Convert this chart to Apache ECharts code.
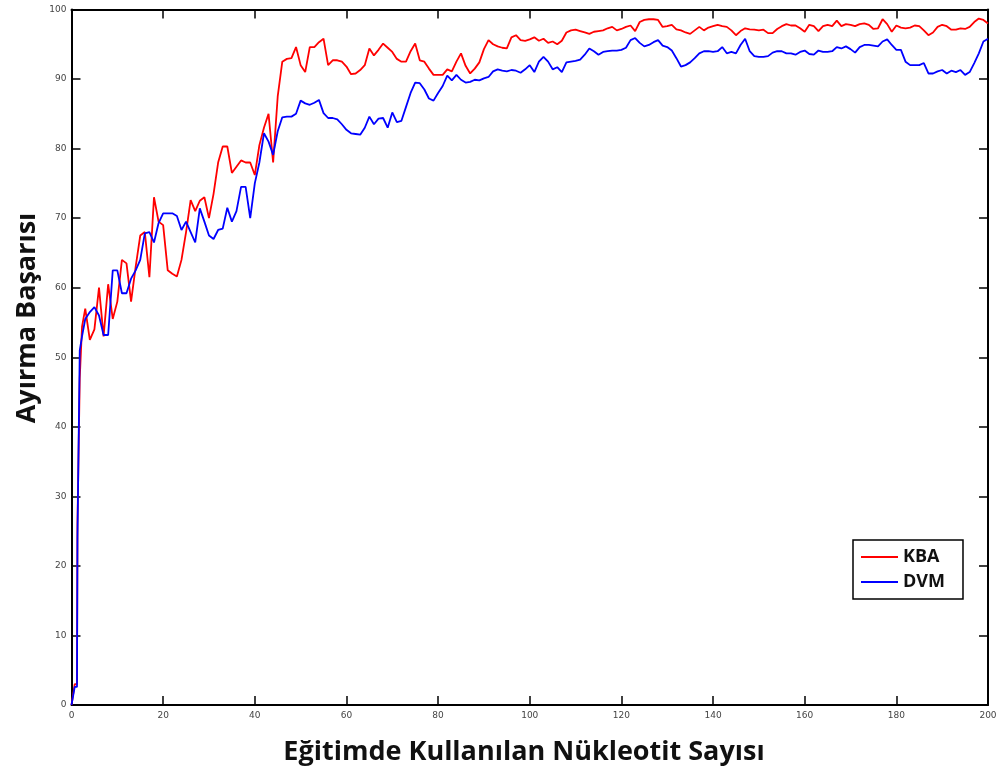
<!DOCTYPE html>
<html>
<head>
<meta charset="utf-8">
<script src="https://cdn.jsdelivr.net/npm/echarts@6/dist/echarts.min.js"></script>
<style>
html,body{margin:0;padding:0;background:#fff;}
#c{width:1000px;height:778px;}
</style>
</head>
<body>
<div id="c"></div>
<script>
// x positions (number of nucleotides used in training)
const nucleotides = [0, 0.7, 1.2, 1.3, 1.8, 2.3];
for (let n = 3; n <= 200; n++) nucleotides.push(n);

const kbaValues = [0, 3, 3, 26, 47, 54.4,
  57, 52.5, 54, 60, 53, 60.5, 55.5, 58, 64, 63.5, 58, 63, 67.5, 68, 61.5, 73, 69.5, 69, 62.5, 62, 61.6, 64, 68, 72.6, 71, 72.5, 73, 70, 73.5, 78, 80.3, 80.3, 76.5, 77.4, 78.3, 78, 78, 76.2, 80.5, 83, 85, 78, 87.5,
  92.5, 92.9, 93, 94.6, 92, 91, 94.6, 94.6, 95.3, 95.8, 92, 92.7, 92.7, 92.5, 91.8, 90.7, 90.8, 91.3, 92, 94.4, 93.4, 94.2, 95.1, 94.5, 93.9, 92.9, 92.5, 92.5, 94, 95.1, 92.7, 92.5, 91.5, 90.6, 90.6, 90.6, 91.4, 91.1, 92.5, 93.7, 91.9, 90.8, 91.5, 92.4, 94.3, 95.6, 95, 94.7, 94.5, 94.4, 96, 96.3,
  95.6, 95.5, 95.7, 96, 95.5, 95.8, 95.2, 95.4, 95, 95.5, 96.7, 97, 97.1, 96.9, 96.7, 96.5, 96.8, 96.9, 97, 97.3, 97.5, 97, 97.2, 97.5, 97.7, 96.9, 98.2, 98.5, 98.6, 98.6, 98.5, 97.5, 97.6, 97.8, 97.15, 97, 96.7, 96.5, 97, 97.5, 97, 97.4, 97.6, 97.8, 97.6, 97.5, 97, 96.3, 96.9, 97.3,
  97.15, 97.1, 97, 97.1, 96.6, 96.6, 97.2, 97.6, 97.9, 97.7, 97.7, 97.3, 96.8, 97.8, 97.6, 96.9, 97.6, 97.8, 97.6, 98.4, 97.6, 97.9, 97.8, 97.6, 97.9, 98, 97.8, 97.2, 97.3, 98.6, 97.9, 96.8, 97.7, 97.4, 97.3, 97.4, 97.7, 97.6, 97, 96.3, 96.7, 97.5, 97.8, 97.6, 97.1, 97.1, 97.3, 97.2, 97.5, 98.2, 98.7, 98.5, 98];

const dvmValues = [0, 2.6, 2.6, 24, 51, 53,
  55.5, 56.5, 57.2, 56, 53.2, 53.2, 62.5, 62.5, 59.2, 59.2, 61.3, 62.5, 64, 67.8, 68, 66.5, 69.3, 70.7, 70.7, 70.7, 70.3, 68.3, 69.5, 68, 66.5, 71.4, 69.5, 67.5, 67, 68.3, 68.5, 71.5, 69.5, 71, 74.5, 74.5, 70, 75, 78, 82.2, 81, 79.1, 82.5,
  84.5, 84.6, 84.6, 85, 86.9, 86.5, 86.3, 86.6, 87, 85.1, 84.4, 84.4, 84.2, 83.5, 82.7, 82.2, 82.1, 82, 83, 84.6, 83.5, 84.3, 84.4, 83, 85.2, 83.8, 84, 86, 88, 89.5, 89.4, 88.5, 87.2, 86.9, 88, 89, 90.5, 89.8, 90.6, 89.9, 89.5, 89.6, 89.9, 89.8, 90.1, 90.3, 91.1, 91.4, 91.2, 91.1, 91.3, 91.2,
  90.9, 91.4, 92, 91, 92.5, 93.2, 92.5, 91.4, 91.7, 91, 92.4, 92.5, 92.6, 92.8, 93.5, 94.4, 94, 93.5, 93.9, 94, 94.1, 94.1, 94.2, 94.5, 95.6, 95.9, 95.2, 94.7, 94.9, 95.3, 95.6, 94.8, 94.6, 94.1, 93, 91.8, 92, 92.4, 93, 93.7, 94, 94, 93.9, 94, 94.6, 93.7, 93.9, 93.7, 94.9, 95.8,
  94, 93.3, 93.2, 93.2, 93.3, 93.8, 94, 94, 93.7, 93.7, 93.5, 93.9, 94.1, 93.6, 93.5, 94.1, 93.9, 93.9, 94, 94.6, 94.4, 94.7, 94.3, 93.8, 94.6, 94.9, 94.9, 94.8, 94.7, 95.4, 95.7, 94.9, 94.2, 94.2, 92.5, 92, 92, 92, 92.3, 90.8, 90.8, 91.1, 91.3, 90.8, 91.2, 91, 91.3, 90.6, 91, 92.3, 93.7, 95.4, 95.8];

const seriesNames = ['KBA', 'DVM'];
const xTitle = 'Eğitimde Kullanılan Nükleotit Sayısı';
const yTitle = 'Ayırma Başarısı';

const pairs = vals => nucleotides.map((x, i) => [x, vals[i]]);

const chart = echarts.init(document.getElementById('c'), null, {renderer: 'canvas'});
const axisCommon = {
  type: 'value',
  axisLine: {show: true, onZero: false, lineStyle: {color: '#000', width: 2}},
  axisTick: {show: true, inside: true, length: 9, lineStyle: {color: '#000', width: 1.5}},
  splitLine: {show: false},
  axisLabel: {color: '#444', fontSize: 9, fontFamily: 'DejaVu Sans'}
};
chart.setOption({
  animation: false,
  backgroundColor: '#fff',
  grid: {left: 71.5, right: 12, top: 9.5, bottom: 73, containLabel: false},
  xAxis: [
    Object.assign({}, axisCommon, {min: 0, max: 200, interval: 20, position: 'bottom',
      axisLabel: Object.assign({}, axisCommon.axisLabel, {margin: 6})}),
    Object.assign({}, axisCommon, {min: 0, max: 200, interval: 20, position: 'top', axisLabel: {show: false}})
  ],
  yAxis: [
    Object.assign({}, axisCommon, {min: 0, max: 100, interval: 10, position: 'left',
      axisLabel: Object.assign({}, axisCommon.axisLabel, {margin: 5})}),
    Object.assign({}, axisCommon, {min: 0, max: 100, interval: 10, position: 'right', axisLabel: {show: false}})
  ],
  legend: {
    data: seriesNames,
    orient: 'vertical',
    left: 853, top: 540,
    borderColor: '#000', borderWidth: 1.5, borderRadius: 0,
    padding: [8, 18, 8, 8],
    itemWidth: 37, itemHeight: 2, itemGap: 7,
    icon: 'rect',
    textStyle: {fontSize: 18, fontWeight: 'bold', fontFamily: 'Open Sans', color: '#111'}
  },
  series: [
    {name: seriesNames[0], type: 'line', data: pairs(kbaValues), showSymbol: false, symbol: 'none',
     color: '#ff0000', lineStyle: {color: '#ff0000', width: 1.8}, z: 2},
    {name: seriesNames[1], type: 'line', data: pairs(dvmValues), showSymbol: false, symbol: 'none',
     color: '#0000ff', lineStyle: {color: '#0000ff', width: 1.8}, z: 3}
  ],
  graphic: [
    {type: 'text', x: 524, y: 752, style: {text: xTitle, font: 'bold 27px "Open Sans"', fill: '#111', align: 'center', verticalAlign: 'middle'}},
    {type: 'text', x: 27, y: 318, rotation: Math.PI / 2, style: {text: yTitle, font: 'bold 27px "Open Sans"', fill: '#111', align: 'center', verticalAlign: 'middle'}}
  ]
});
</script>
</body>
</html>
